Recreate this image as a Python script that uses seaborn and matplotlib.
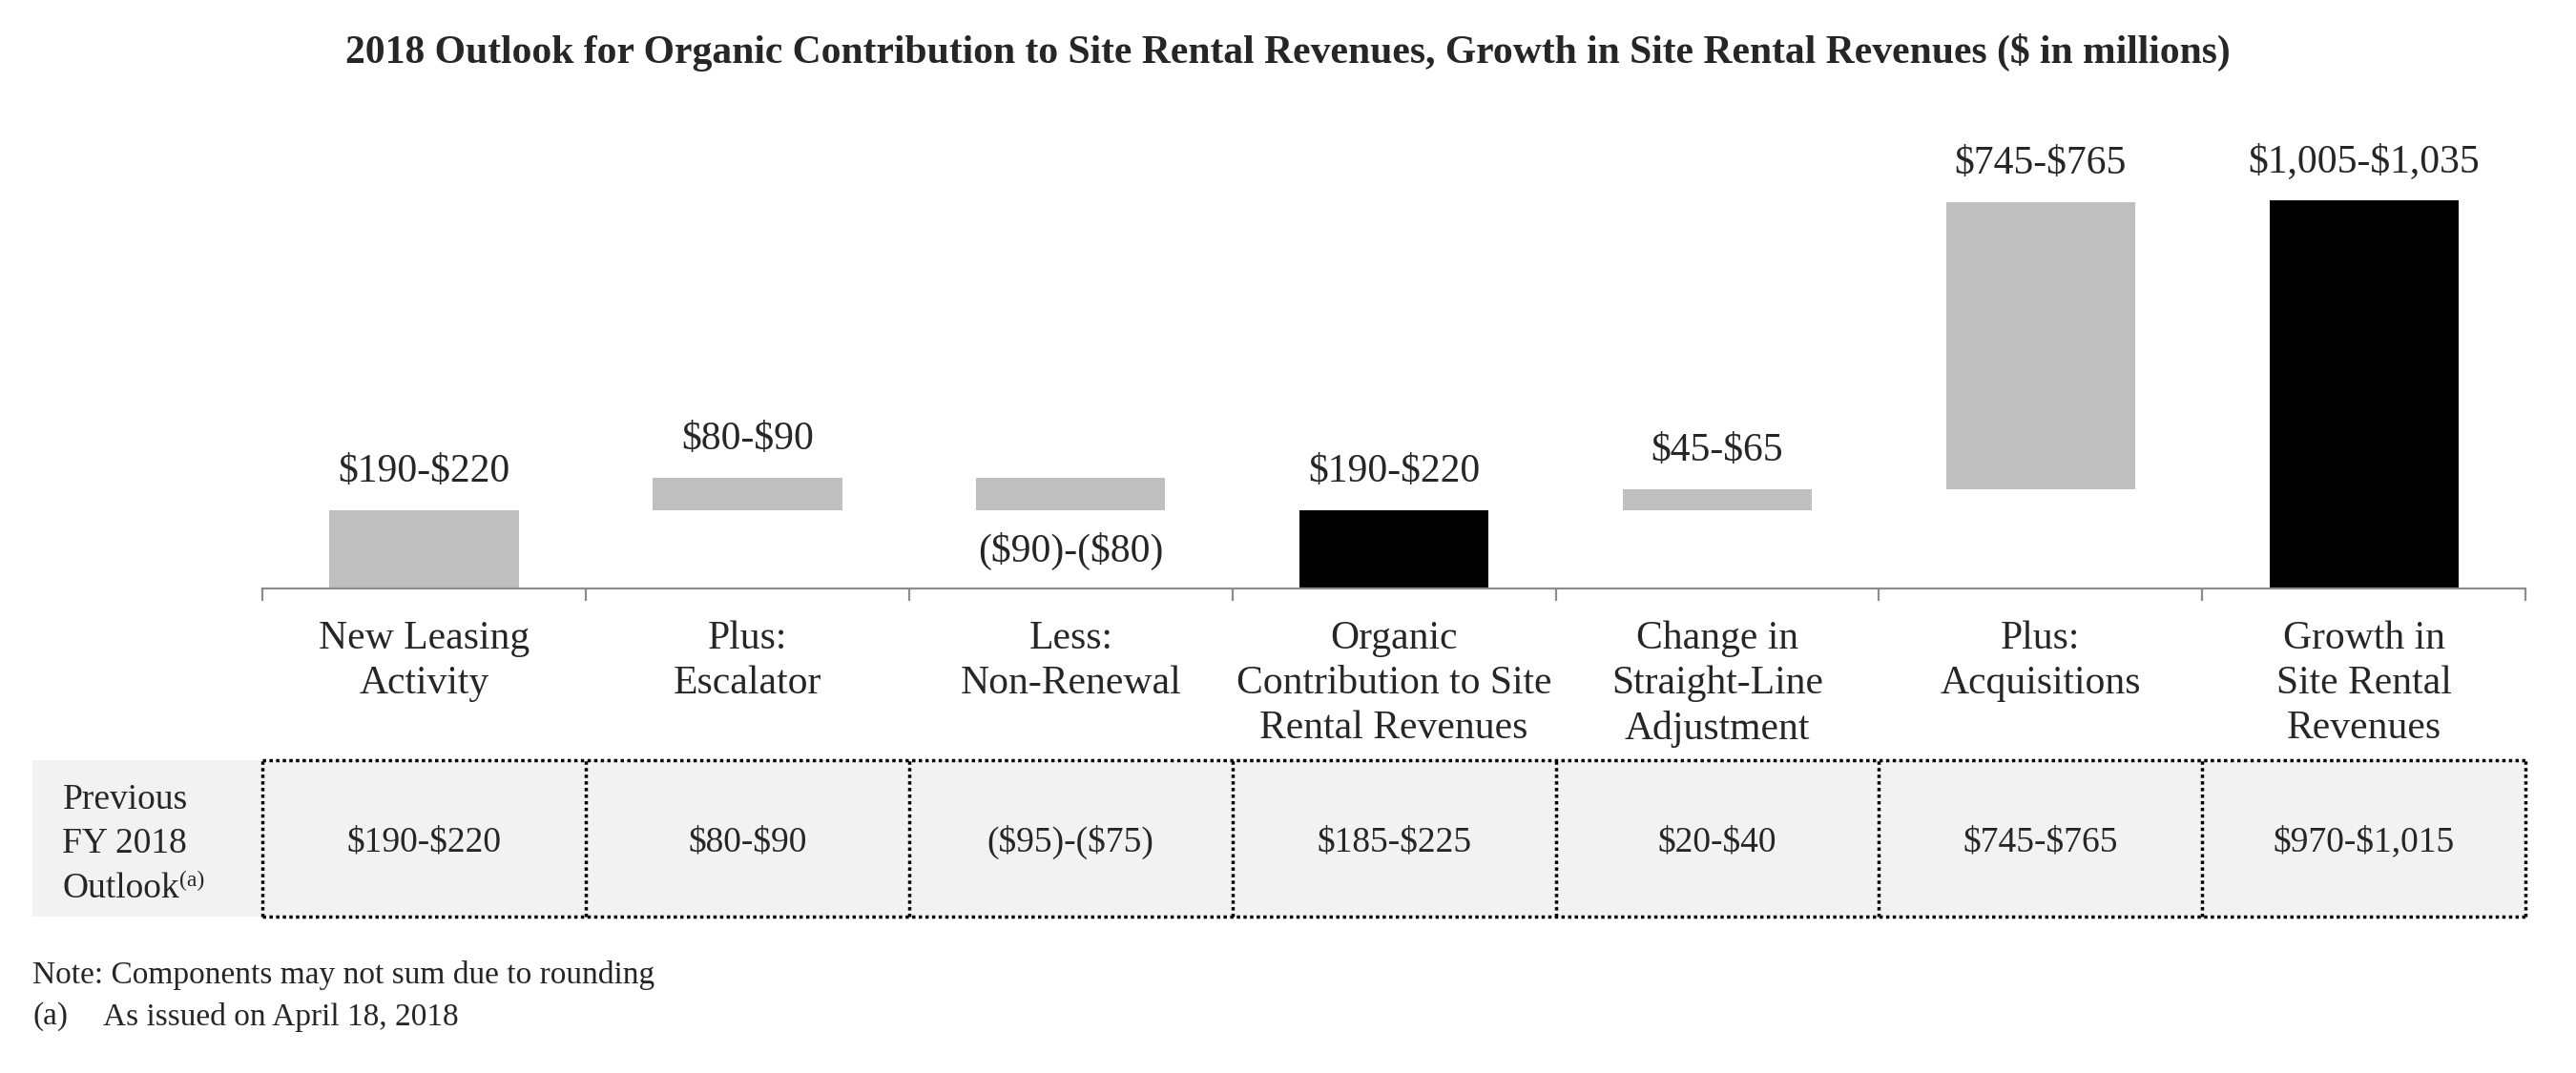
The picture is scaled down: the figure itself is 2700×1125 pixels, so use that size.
''' 2018 outlook waterfall: organic contribution to site rental revenues '''
import numpy as np
import pandas as pd
import matplotlib
matplotlib.use("Agg")
import matplotlib.pyplot as plt
import seaborn as sns
from matplotlib.patches import Rectangle

# chart data
categories = ["New Leasing\nActivity", "Plus:\nEscalator", "Less:\nNon-Renewal",
              "Organic\nContribution to Site\nRental Revenues",
              "Change in\nStraight-Line\nAdjustment", "Plus:\nAcquisitions",
              "Growth in\nSite Rental\nRevenues"]
bar_values = [205, 85, -85, 205, 55, 755, 1020]
is_total = [False, False, False, True, False, False, True]
bar_labels = ["$190-$220", "$80-$90", "($90)-($80)", "$190-$220",
              "$45-$65", "$745-$765", "$1,005-$1,035"]
previous_outlook = ["$190-$220", "$80-$90", "($95)-($75)", "$185-$225",
                    "$20-$40", "$745-$765", "$970-$1,015"]

sns.set_style("white")
plt.rcParams["font.family"] = ["Liberation Serif", "DejaVu Serif"]
plt.rcParams["text.parse_math"] = False

## waterfall bottoms
bottoms = []
running = 0
for v, tot in zip(bar_values, is_total):
    if tot:
        bottoms.append(0)
        running = v
    else:
        bottoms.append(running)
        running += v

df = pd.DataFrame({"category": categories, "value": bar_values})

fig = plt.figure(figsize=(27, 11.25), dpi=100)
ax = fig.add_axes([0.1019, 0.4516, 0.8785, 0.4284])

sns.barplot(data=df, x="category", y="value", order=categories, bottom=bottoms,
            width=0.585, color="#BFBFBF", saturation=1, errorbar=None, ax=ax)
for patch, tot in zip(ax.patches, is_total):
    patch.set_facecolor("black" if tot else "#BFBFBF")
    patch.set_edgecolor("none")

## range labels above / below each bar
for i, (v, b, lab) in enumerate(zip(bar_values, bottoms, bar_labels)):
    if v >= 0:
        ax.annotate(lab, xy=(i, b + v), xytext=(0, 29), textcoords="offset points",
                    ha="center", va="center", fontsize=30)
    else:
        ax.annotate(lab, xy=(i, b + v), xytext=(0, -31), textcoords="offset points",
                    ha="center", va="center", fontsize=30)

ax.set_xlim(-0.5, 6.5)
ax.set_ylim(0, 1208)
ax.set_yticks([])
ax.set_xlabel("")
ax.set_ylabel("")
sns.despine(ax=ax, left=True)
ax.spines["bottom"].set_color("#8C8C8C")
ax.spines["bottom"].set_linewidth(1.6)
ax.set_xticks(range(len(categories)))
ax.set_xticklabels(categories, fontsize=30, linespacing=1.3)
ax.set_xticks(np.arange(-0.5, len(categories), 1), minor=True)
ax.tick_params(axis="x", which="major", length=0, pad=24)
ax.tick_params(axis="x", which="minor", bottom=True, length=9, width=1.6,
               color="#8C8C8C", direction="out")

## previous outlook table
tab = fig.add_axes([0.1019, 0.1458, 0.8785, 0.1458])
tab.set_xlim(-0.5, 6.5)
tab.set_ylim(0, 1)
tab.axis("off")
tab.add_patch(Rectangle((-1.211, 0), 0.711, 1, facecolor="#F2F2F2",
                        edgecolor="none", clip_on=False))
tab.add_patch(Rectangle((-0.5, 0), 7, 1, facecolor="#F2F2F2",
                        edgecolor="none", clip_on=False))
tab.hlines([0, 1], -0.5, 6.5, colors="black", linestyles=(0, (1, 1)),
           linewidth=2.5, clip_on=False)
tab.vlines(np.arange(-0.5, 7, 1), 0, 1, colors="black", linestyles=(0, (1, 1)),
           linewidth=2.5, clip_on=False)
for i, val in enumerate(previous_outlook):
    tab.text(i, 0.476, val, ha="center", va="center", fontsize=27)

tab.text(-1.119, 0.744, "Previous", ha="left", va="center", fontsize=27)
tab.text(-1.119, 0.463, "FY 2018", ha="left", va="center", fontsize=27)
outlook = tab.text(-1.119, 0.177, "Outlook", ha="left", va="center", fontsize=27)
tab.annotate("(a)", xy=(1.0, 1.05), xycoords=outlook, ha="left", va="top",
             fontsize=17)

fig.text(0.5, 0.951, "2018 Outlook for Organic Contribution to Site Rental Revenues, "
         "Growth in Site Rental Revenues ($ in millions)",
         ha="center", va="center", fontsize=30, fontweight="bold")
fig.text(0.0126, 0.0907, "Note: Components may not sum due to rounding",
         ha="left", va="center", fontsize=24)
fig.text(0.0126, 0.0524, "(a)", ha="left", va="center", fontsize=24)
fig.text(0.040, 0.0524, "As issued on April 18, 2018", ha="left", va="center",
         fontsize=24)

fig.savefig("out.png", dpi=100)
